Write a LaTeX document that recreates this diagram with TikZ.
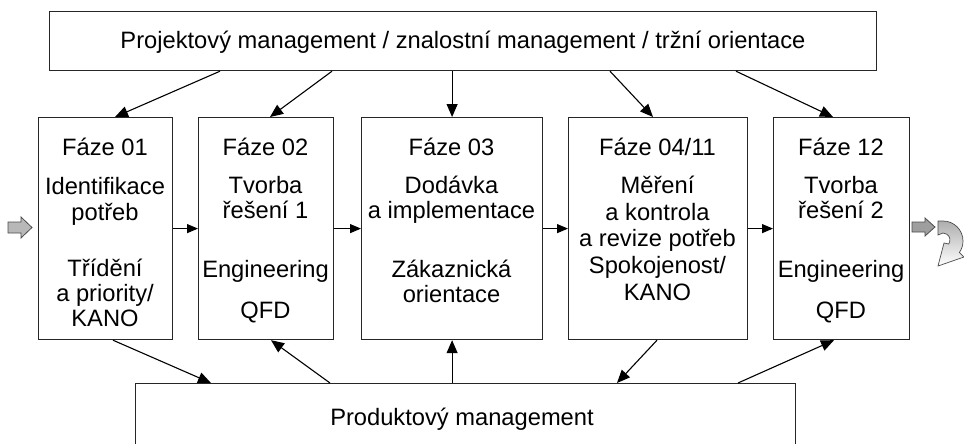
\documentclass[tikz,border=0pt]{standalone}
\usepackage{fontspec}
\setmainfont{Liberation Sans}
\usetikzlibrary{arrows.meta}
\begin{document}
\begin{tikzpicture}[x=1pt,y=-1pt,
  box/.style={draw=black!85,line width=1.2pt,rectangle,inner sep=0pt,anchor=north west},
  txt/.style={anchor=base,inner sep=0pt,font=\fontsize{23.7}{28}\selectfont},
  conn/.style={line width=1.1pt,-{Triangle[length=13pt,width=11pt]}},
  hconn/.style={line width=1.1pt,-{Triangle[length=11pt,width=9pt]}},
  blockarrow/.style={draw=black!70,line width=0.8pt}]
\useasboundingbox (0,0) rectangle (964,444);
\clip (0,0) rectangle (964,444);
% main boxes
\node[box,minimum width=827pt,minimum height=59pt] (top) at (49,11) {};
\node[txt] (toptext) at (463,49) {Projektový management / znalostní management / tržní orientace};
\node[box,minimum width=134pt,minimum height=222pt] (b1) at (38,117) {};
\node[box,minimum width=135pt,minimum height=222pt] (b2) at (198,117) {};
\node[box,minimum width=181pt,minimum height=222pt] (b3) at (361,117) {};
\node[box,minimum width=179pt,minimum height=222pt] (b4) at (568,117) {};
\node[box,minimum width=136pt,minimum height=222pt] (b5) at (773,117) {};
\node[box,minimum width=660pt,minimum height=70pt] (bot) at (135,383) {};
\node[txt] (bottext) at (462,425) {Produktový management};
% phase 01
\node[txt] (t1a) at (105,155) {Fáze 01};
\node[txt] (t1b) at (105,194) {Identifikace};
\node[txt] (t1c) at (105,220) {potřeb};
\node[txt] (t1d) at (105,276) {Třídění};
\node[txt] (t1e) at (105,301) {a priority/};
\node[txt] (t1f) at (105,326) {KANO};
% phase 02
\node[txt] (t2a) at (265.5,155) {Fáze 02};
\node[txt] (t2b) at (265.5,193) {Tvorba};
\node[txt] (t2c) at (265.5,218) {řešení 1};
\node[txt] (t2d) at (265.5,277) {Engineering};
\node[txt] (t2e) at (265.5,318) {QFD};
% phase 03
\node[txt] (t3a) at (451.5,155) {Fáze 03};
\node[txt] (t3b) at (451.5,193) {Dodávka};
\node[txt] (t3c) at (451.5,218) {a implementace};
\node[txt] (t3d) at (451.5,277) {Zákaznická};
\node[txt] (t3e) at (451.5,302) {orientace};
% phase 04/11
\node[txt] (t4a) at (657.5,155) {Fáze 04/11};
\node[txt] (t4b) at (657.5,193) {Měření};
\node[txt] (t4c) at (657.5,220) {a kontrola};
\node[txt] (t4d) at (657.5,246) {a revize potřeb};
\node[txt] (t4e) at (657.5,273) {Spokojenost/};
\node[txt] (t4f) at (657.5,300) {KANO};
% phase 12
\node[txt] (t5a) at (841,155) {Fáze 12};
\node[txt] (t5b) at (841,193) {Tvorba};
\node[txt] (t5c) at (841,218) {řešení 2};
\node[txt] (t5d) at (841,277) {Engineering};
\node[txt] (t5e) at (841,318) {QFD};
% top arrows
\draw[conn] ([xshift=171pt]top.south west) -- ([xshift=77pt]b1.north west);
\draw[conn] ([xshift=283pt]top.south west) -- ([xshift=72pt]b2.north west);
\draw[conn] (top.south -| b3.north) -- (b3.north);
\draw[conn] ([xshift=561pt]top.south west) -- ([xshift=85pt]b4.north west);
\draw[conn] ([xshift=687pt]top.south west) -- ([xshift=60pt]b5.north west);
% horizontal arrows
\draw[hconn] (b1.east) -- (b2.west);
\draw[hconn] (b2.east) -- (b3.west);
\draw[hconn] (b3.east) -- (b4.west);
\draw[hconn] (b4.east) -- (b5.west);
% bottom arrows
\draw[conn] ([xshift=75pt]b1.south west) -- ([xshift=76pt]bot.north west);
\draw[conn] ([xshift=195pt]bot.north west) -- ([xshift=73pt]b2.south west);
\draw[conn] (bot.north -| b3.south) -- (b3.south);
\draw[conn] ([xshift=89pt]b4.south west) -- ([xshift=482pt]bot.north west);
\draw[conn] ([xshift=603pt]bot.north west) -- ([xshift=61pt]b5.south west);
% block arrows
\draw[blockarrow,fill=black!28] (8,222) -- (21,222) -- (21,217) -- (32,227.5) -- (21,238) -- (21,233) -- (8,233) -- cycle;
\draw[blockarrow,fill=black!38] (912,222) -- (925,222) -- (925,218) -- (935,227) -- (925,236) -- (925,232) -- (912,232) -- cycle;
\draw[blockarrow,line width=0.7pt,top color=black!32,bottom color=white]
  (938,221) -- (943,221) arc[start angle=-90,end angle=35,radius=20]
  -- (964,257) -- (938,266) -- (944,243) -- (948.7,244)
  arc[start angle=35,end angle=-90,radius=7] -- (938,235) -- cycle;
\end{tikzpicture}
\end{document}
